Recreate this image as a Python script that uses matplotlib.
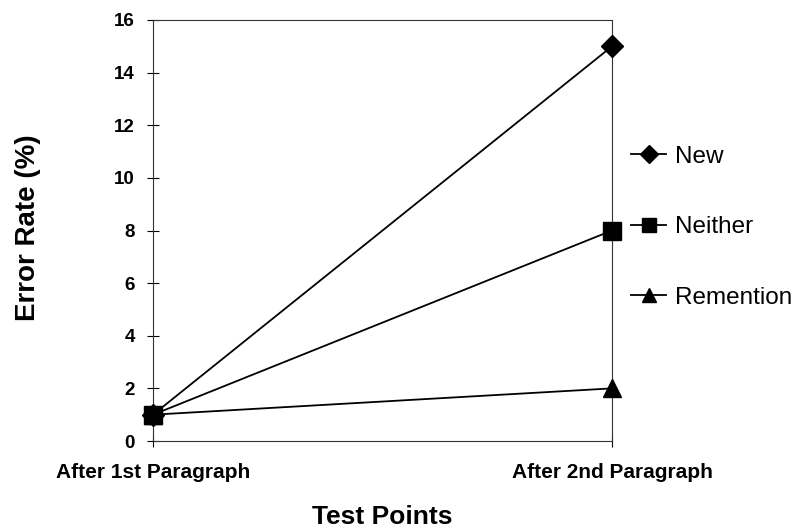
import matplotlib
matplotlib.use('Agg')
import matplotlib.pyplot as plt

plt.rcParams['font.family'] = ['Liberation Sans', 'DejaVu Sans']

points  = ['After 1st Paragraph', 'After 2nd Paragraph']
new     = [1, 15]
neither = [1, 8]
rement  = [1, 2]

fig = plt.figure(figsize=(8.09, 5.28), dpi=100)
ax = fig.add_axes([153/809, 87/528, (612-153)/809, (441-20)/528])

x = [0, 1]
ax.plot(x, new, color='black', lw=1.3, marker='D', ms=11, clip_on=False, zorder=5, label='New')
ax.plot(x, neither, color='black', lw=1.3, marker='s', ms=12.5, clip_on=False, zorder=5, label='Neither')
ax.plot(x, rement, color='black', lw=1.3, marker='^', ms=12.5, clip_on=False, zorder=5, label='Remention')

ax.set_xlim(0, 1); ax.set_ylim(0, 16)
ax.set_yticks(range(0, 17, 2))
ax.set_xticks(x); ax.set_xticklabels(points)
ax.tick_params(direction='inout', length=8, width=0.8, labelsize=13.5, pad=9)
ax.tick_params(axis='x', labelsize=15, pad=12)
for lab in ax.get_xticklabels() + ax.get_yticklabels():
    lab.set_fontweight('bold')
for s in ax.spines.values():
    s.set_linewidth(0.8); s.set_color('#333333')

fig.text(28/809, 1 - 228/528, 'Error Rate (%)', fontsize=20, weight='bold',
         rotation=90, ha='center', va='center')
fig.text(382/809, 4/528, 'Test Points', fontsize=19, weight='bold', ha='center', va='baseline')

ax.legend(loc='center left', bbox_to_anchor=(0.994, 0.508), frameon=False, fontsize=17.5,
          labelspacing=2.0, handlelength=1.45, handletextpad=0.35, markerscale=0.85)

plt.savefig('out.png', dpi=100)
